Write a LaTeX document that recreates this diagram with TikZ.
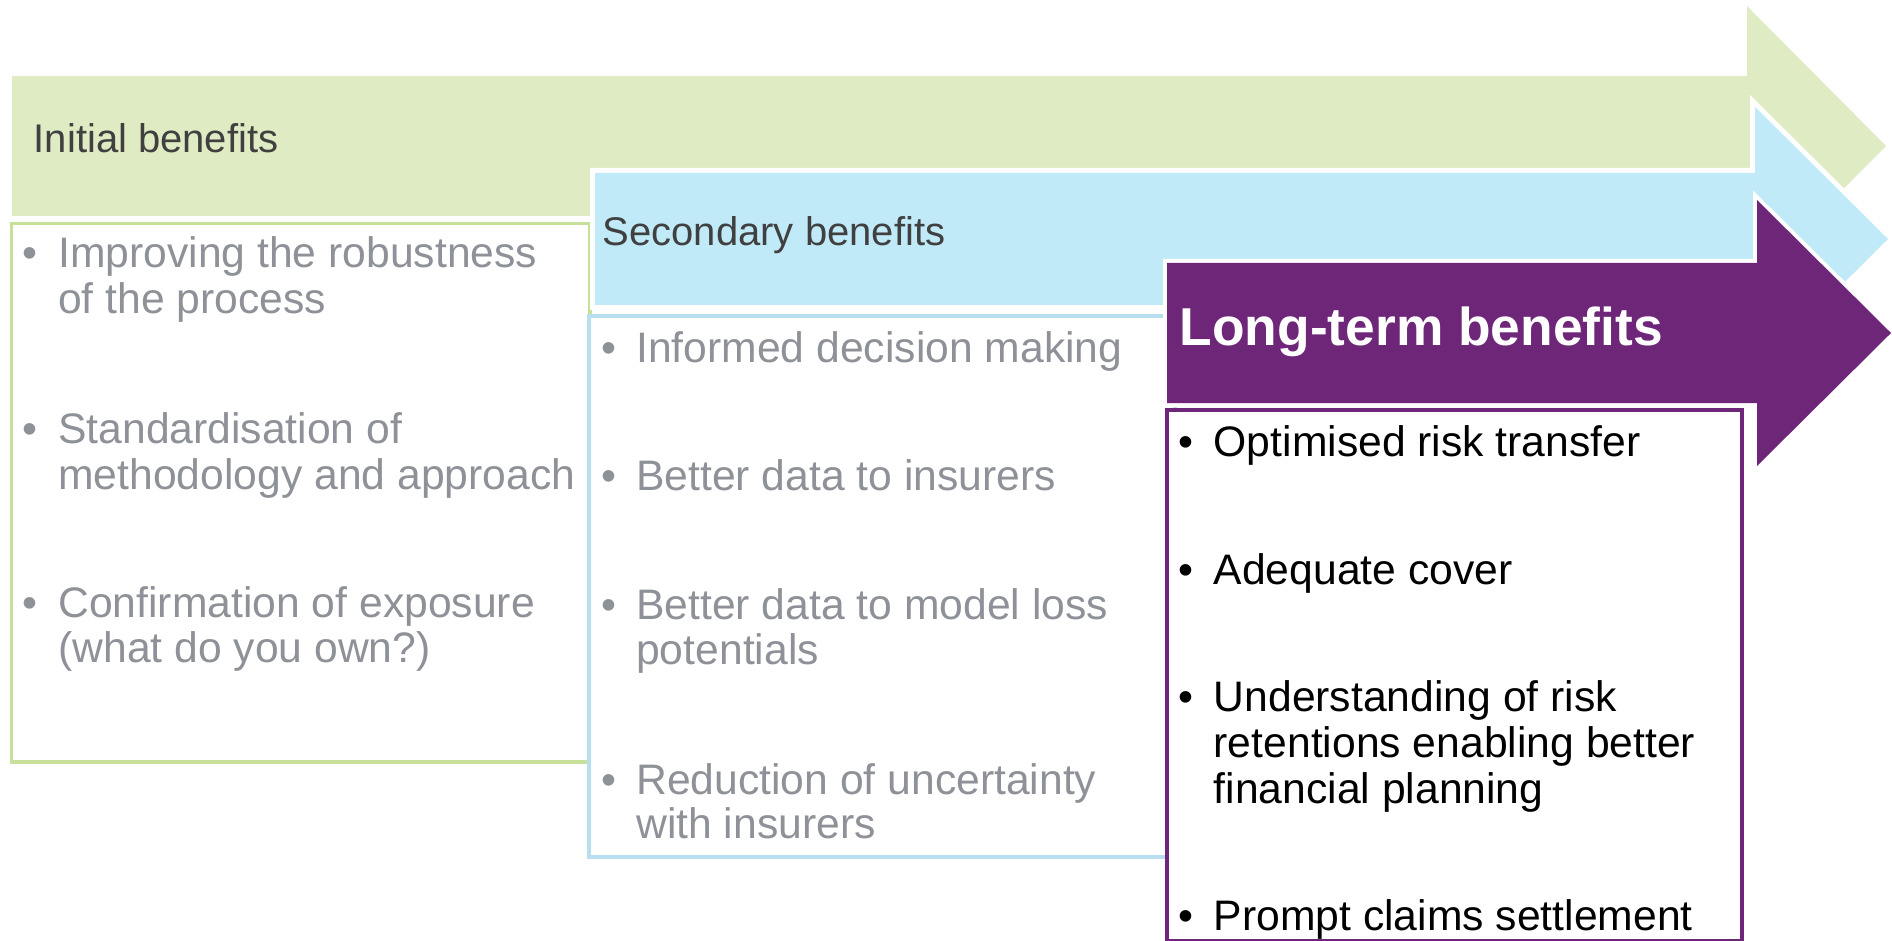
\documentclass[tikz,border=0pt]{standalone}
\usepackage{fontspec}
\setmainfont{Liberation Sans}
\definecolor{greenfill}{RGB}{222,235,195}
\definecolor{greenline}{RGB}{199,225,155}
\definecolor{bluefill}{RGB}{193,234,249}
\definecolor{blueline}{RGB}{184,222,240}
\definecolor{purplec}{RGB}{110,38,120}
\definecolor{graytext}{RGB}{142,145,151}
\definecolor{headtext}{RGB}{64,64,64}
\begin{document}
\begin{tikzpicture}[x=0.75pt,y=-0.75pt,
  bodytxt/.style={anchor=base west, inner sep=0pt, font=\fontsize{32}{36}\selectfont},
  grayitem/.style={bodytxt, text=graytext},
  blackitem/.style={bodytxt, text=black},
  bulgray/.style={anchor=base, inner sep=0pt, font=\fontsize{32}{36}\selectfont, text=graytext},
  bulblack/.style={anchor=base, inner sep=0pt, font=\fontsize{32}{36}\selectfont, text=black},
  headtxt/.style={anchor=base west, inner sep=0pt, font=\fontsize{30}{34}\selectfont, text=headtext},
  listbox/.style={fill=white, line width=2.4pt}
]
\useasboundingbox (0,0) rectangle (1892,941);
\fill[white] (0,0) rectangle (1892,941);

% green arrow
\fill[greenfill] (12,76) -- (1747,76) -- (1747,6) -- (1886,146) -- (1747,286) -- (1747,216) -- (12,216) -- cycle;
% green box
\draw[listbox, draw=greenline] (11.5,223.5) rectangle (590,762);

% blue arrow with white outline
\path[draw=white, fill=white, line width=7.5pt] (595,173) -- (1755,173) -- (1755,107) -- (1888,239) -- (1755,371) -- (1755,305) -- (595,305) -- cycle;
\fill[bluefill] (595,173) -- (1755,173) -- (1755,107) -- (1888,239) -- (1755,371) -- (1755,305) -- (595,305) -- cycle;
% blue box
\draw[listbox, draw=blueline] (589,316) rectangle (1175,857);

% purple arrow with white outline
\path[draw=white, fill=white, line width=6pt] (1167,263) -- (1757,263) -- (1757,200) -- (1891,333) -- (1757,466) -- (1757,403) -- (1167,403) -- cycle;
\fill[purplec] (1167,263) -- (1757,263) -- (1757,200) -- (1891,333) -- (1757,466) -- (1757,403) -- (1167,403) -- cycle;
% purple box
\draw[listbox, draw=purplec, line width=3pt] (1167,410) rectangle (1742,941);

% headers
\node[headtxt] (h1) at (33.5,153) {Initial benefits};
\node[headtxt] (h2) at (602.5,246) {Secondary benefits};
\node[anchor=base west, inner sep=0pt, font=\fontsize{40}{44}\selectfont\bfseries, text=white] (h3) at (1179.5,345) {Long-term benefits};

% green items
\node[bulgray] (g1b) at (30,268) {•};
\node[grayitem] (g1a) at (58,268) {Improving the robustness};
\node[grayitem] (g1c) at (58,314) {of the process};
\node[bulgray] (g2b) at (30,443) {•};
\node[grayitem] (g2a) at (58,443) {Standardisation of};
\node[grayitem] (g2c) at (58,489) {methodology and approach};
\node[bulgray] (g3b) at (30,617) {•};
\node[grayitem] (g3a) at (58,617) {Confirmation of exposure};
\node[grayitem] (g3c) at (58,662) {(what do you own?)};

% blue items
\node[bulgray] (b1b) at (609,363) {•};
\node[grayitem] (b1a) at (636,363) {Informed decision making};
\node[bulgray] (b2b) at (609,490) {•};
\node[grayitem] (b2a) at (636,490) {Better data to insurers};
\node[bulgray] (b3b) at (609,619) {•};
\node[grayitem] (b3a) at (636,619) {Better data to model loss};
\node[grayitem] (b3c) at (636,664) {potentials};
\node[bulgray] (b4b) at (609,794) {•};
\node[grayitem] (b4a) at (636,794) {Reduction of uncertainty};
\node[grayitem] (b4c) at (636,838) {with insurers};

% purple items
\node[bulblack] (p1b) at (1186,456) {•};
\node[blackitem] (p1a) at (1213.5,456) {Optimised risk transfer};
\node[bulblack] (p2b) at (1186,584) {•};
\node[blackitem] (p2a) at (1213.5,584) {Adequate cover};
\node[bulblack] (p3b) at (1186,711) {•};
\node[blackitem] (p3a) at (1213.5,711) {Understanding of risk};
\node[blackitem] (p3c) at (1213.5,757) {retentions enabling better};
\node[blackitem] (p3d) at (1213.5,803) {financial planning};
\node[bulblack] (p4b) at (1186,930) {•};
\node[blackitem] (p4a) at (1213.5,930) {Prompt claims settlement};
\end{tikzpicture}
\end{document}
